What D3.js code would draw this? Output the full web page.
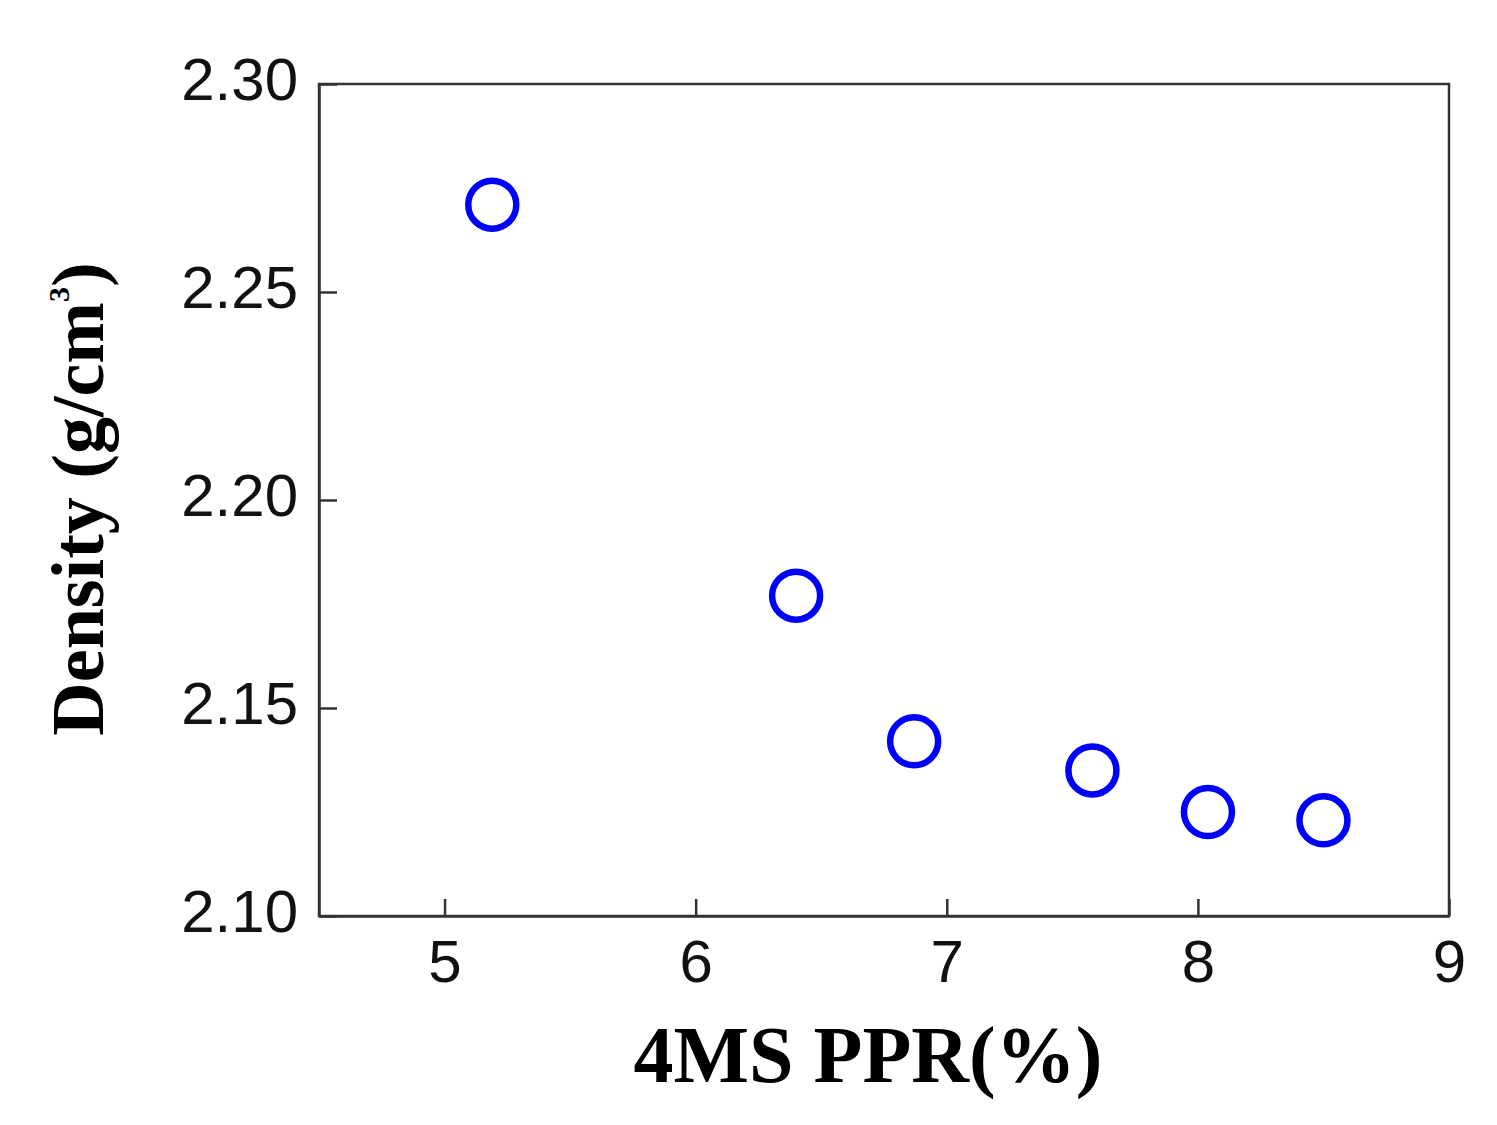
<!DOCTYPE html>
<html>
<head>
<meta charset="utf-8">
<script src="https://cdn.jsdelivr.net/npm/d3@7"></script>
<style>
  body { margin: 0; background: #fff; }
  .axis path, .axis line { stroke: #333; stroke-width: 2.5; }
  .axis text { font-family: "Liberation Sans", Arial, sans-serif; font-size: 60px; fill: #111; }
  .title { font-family: "Liberation Serif", "Times New Roman", serif; font-weight: bold; fill: #000; }
</style>
</head>
<body>
<svg id="chart" width="1497" height="1125"></svg>
<script>
// data
var ppr     = [5.19, 6.40, 6.87, 7.58, 8.04, 8.50];
var density = [2.271, 2.177, 2.142, 2.135, 2.125, 2.123];
var xTicks = [5, 6, 7, 8, 9];
var yTicks = [2.10, 2.15, 2.20, 2.25, 2.30];

var svg = d3.select("#chart"),
    margin = {top: 84, right: 48, bottom: 209, left: 319},
    width = +svg.attr("width") - margin.left - margin.right,
    height = +svg.attr("height") - margin.top - margin.bottom;

var x = d3.scaleLinear().domain([4.5, 9]).range([0, width]);
var y = d3.scaleLinear().domain([2.10, 2.30]).range([height, 0]);

var g = svg.append("g")
    .attr("transform", "translate(" + margin.left + "," + margin.top + ")");

// frame
g.append("rect")
    .attr("width", width)
    .attr("height", height)
    .attr("fill", "none")
    .attr("stroke", "#333")
    .attr("stroke-width", 2.5);

// x axis, ticks pointing inward
var xAxis = g.append("g")
    .attr("class", "axis")
    .attr("transform", "translate(0," + height + ")")
    .call(d3.axisBottom(x).tickValues(xTicks).tickFormat(d3.format("d"))
      .tickSizeInner(-17).tickSizeOuter(0));
xAxis.selectAll("text").attr("dy", "0.71em").attr("y", 23);

// y axis
var yAxis = g.append("g")
    .attr("class", "axis")
    .call(d3.axisLeft(y).tickValues(yTicks).tickFormat(d3.format(".2f"))
      .tickSizeInner(-18).tickSizeOuter(0));
yAxis.selectAll("text").attr("x", -21).attr("dy", "0.26em");

// points
g.selectAll("circle.pt")
    .data(ppr)
  .enter().append("circle")
    .attr("class", "pt")
    .attr("cx", function(d) { return x(d); })
    .attr("cy", function(d, i) { return y(density[i]); })
    .attr("r", 24)
    .attr("fill", "none")
    .attr("stroke", "#0000ff")
    .attr("stroke-width", 6.5);

// axis titles
svg.append("text")
    .attr("class", "title")
    .attr("x", 868)
    .attr("y", 1082)
    .attr("text-anchor", "middle")
    .style("font-size", "80px")
    .text("4MS PPR(%)");

var yt = svg.append("text")
    .attr("class", "title")
    .attr("transform", "translate(103,499) rotate(-90)")
    .attr("text-anchor", "middle")
    .style("font-size", "74px");
yt.append("tspan").text("Density (g/cm");
yt.append("tspan").attr("dy", -34).style("font-size", "30px").text("3");
yt.append("tspan").attr("dy", 34).text(")");
</script>
</body>
</html>
